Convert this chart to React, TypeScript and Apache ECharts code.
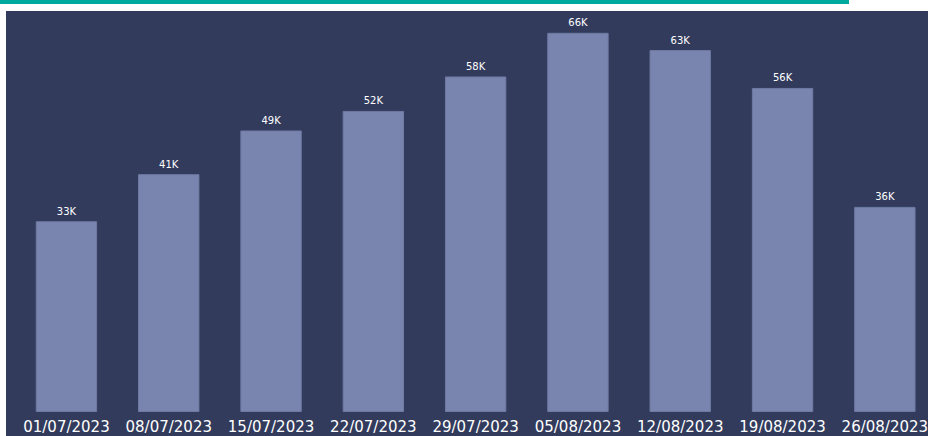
import React, { useEffect, useRef } from "react";
import * as echarts from "echarts";

const categories = [
  "01/07/2023",
  "08/07/2023",
  "15/07/2023",
  "22/07/2023",
  "29/07/2023",
  "05/08/2023",
  "12/08/2023",
  "19/08/2023",
  "26/08/2023",
];
const values = [33200, 41400, 49000, 52400, 58400, 66000, 63000, 56400, 35700];

const fmtK = (v: number) => Math.round(v / 1000) + "K";

export default function App() {
  const ref = useRef<HTMLDivElement>(null);
  useEffect(() => {
    if (!ref.current) return;
    const chart = echarts.init(ref.current, undefined, { renderer: "svg" });
    chart.setOption({
      animation: false,
      backgroundColor: "#323b5c",
      grid: { left: 9.3, right: 0, top: 10.3, bottom: 24, containLabel: false },
      xAxis: {
        type: "category",
        data: categories,
        axisLine: { show: false },
        axisTick: { show: false },
        axisLabel: {
          color: "#ffffff",
          fontFamily: "DejaVu Sans",
          fontSize: 15,
          margin: 7,
          interval: 0,
        },
      },
      yAxis: {
        type: "value",
        min: 0,
        max: 68000,
        show: false,
        splitLine: { show: false },
      },
      series: [
        {
          type: "bar",
          data: values,
          barWidth: "60%",
          itemStyle: { color: "#7985ae", borderColor: "#6e7aa3", borderWidth: 1 },
          label: {
            show: true,
            position: "top",
            distance: 5,
            color: "#ffffff",
            fontFamily: "DejaVu Sans",
            fontSize: 10,
            formatter: (p: any) => fmtK(p.value),
          },
        },
      ],
    });
    return () => chart.dispose();
  }, []);

  return (
    <div
      style={{
        position: "fixed",
        left: 0,
        top: 0,
        width: 928,
        height: 436,
        background: "#ffffff",
        overflow: "hidden",
      }}
    >
      <div
        style={{
          position: "absolute",
          left: 0,
          top: 0,
          width: 849,
          height: 4,
          background: "#00a99d",
        }}
      />
      <div
        ref={ref}
        style={{ position: "absolute", left: 6, top: 11, width: 930, height: 425 }}
      />
    </div>
  );
}
